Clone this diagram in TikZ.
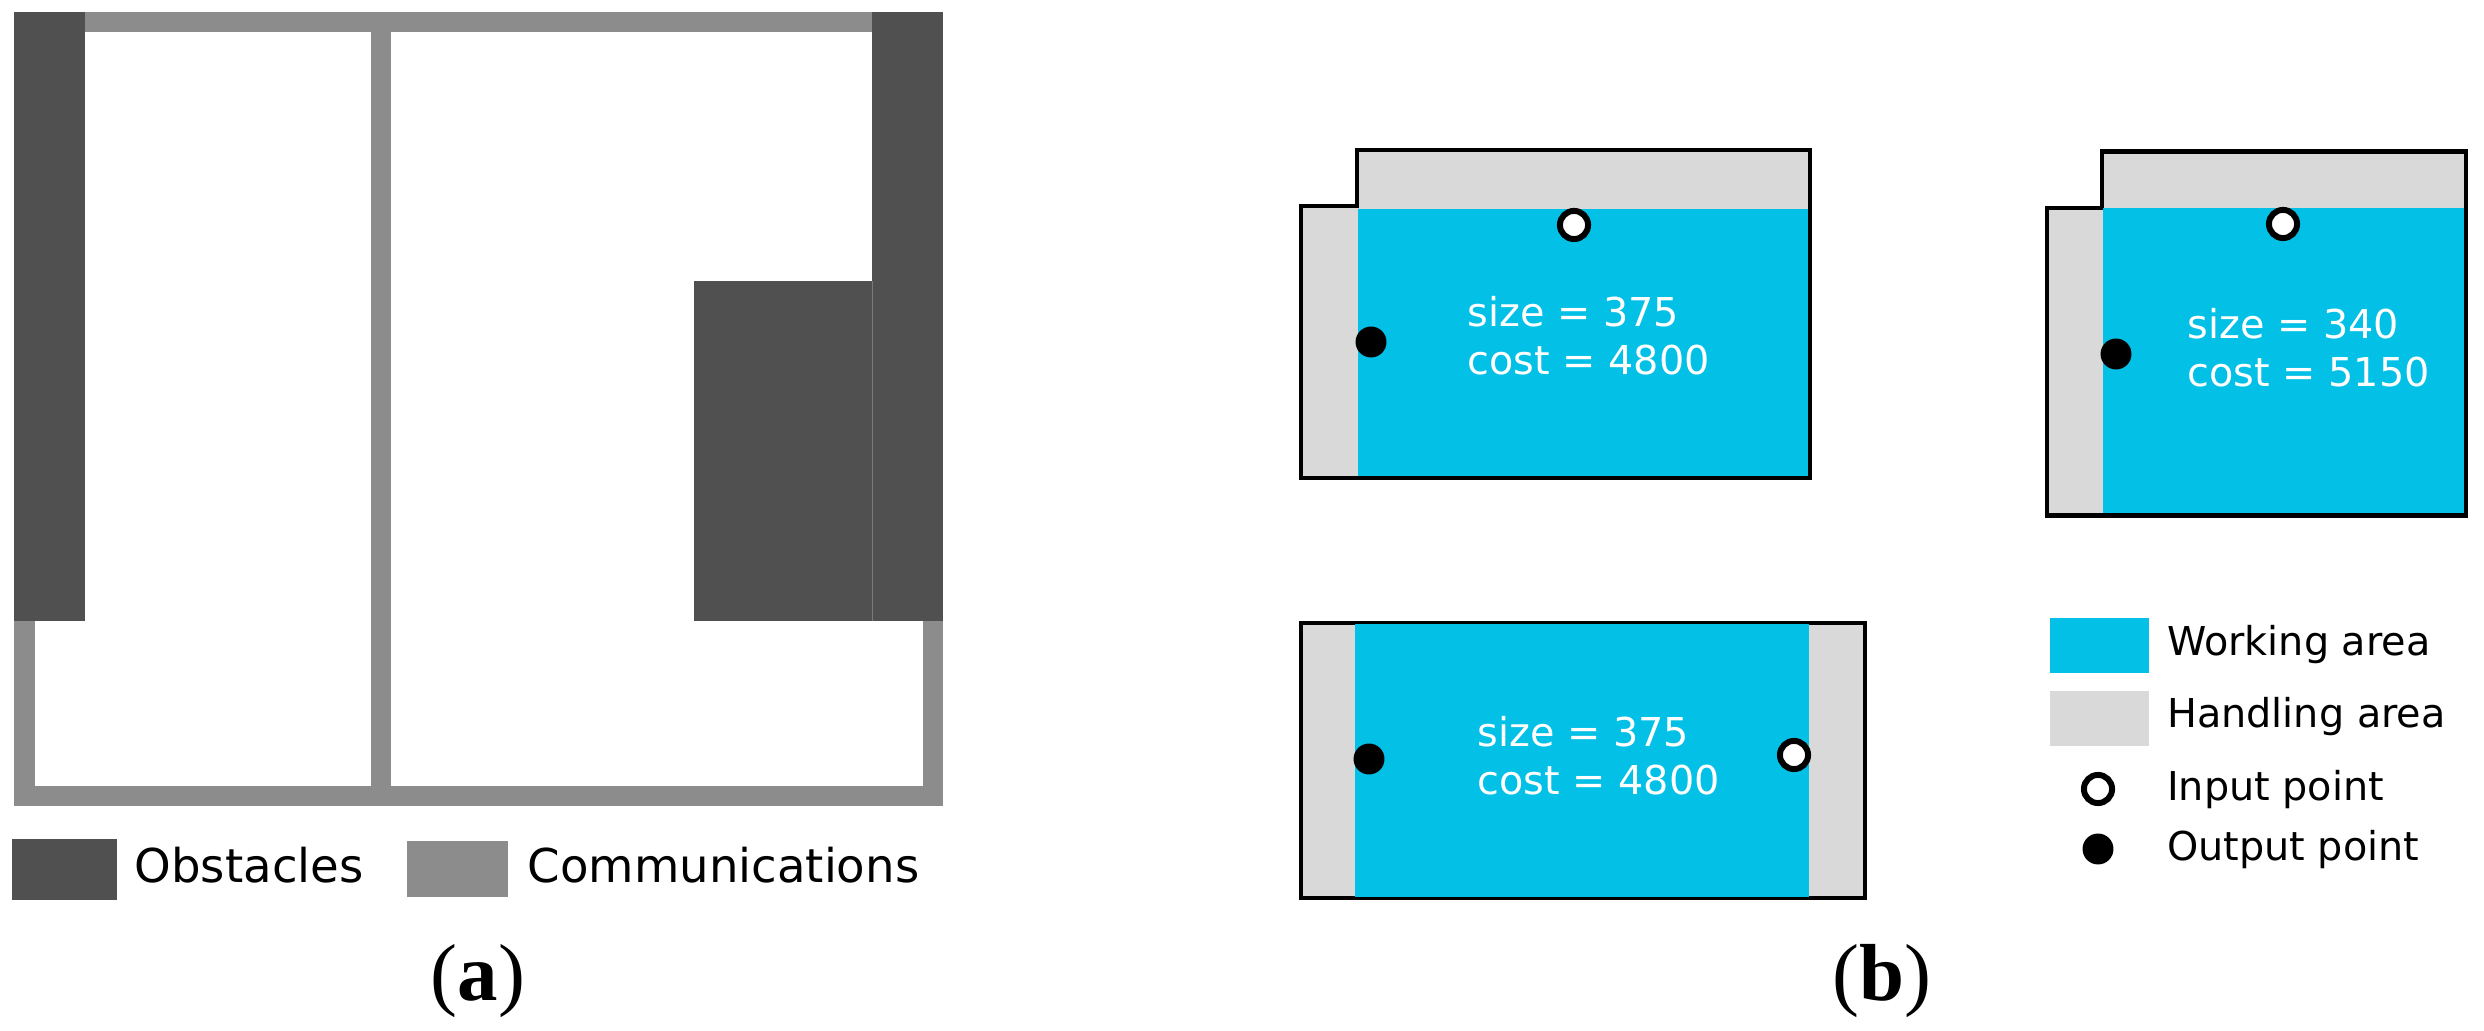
\documentclass[tikz,border=0pt]{standalone}
\usepackage{xcolor}
\usepackage{fontspec}
\setsansfont{DejaVu Sans}
\newfontfamily\capfont{Liberation Serif}
\definecolor{obstacle}{HTML}{505050}
\definecolor{commline}{HTML}{8C8C8C}
\definecolor{working}{HTML}{02C0E6}
\definecolor{handling}{HTML}{D9D9D9}
\tikzset{
    outline/.style={draw=black, line width=1.4pt, fill=handling},
    label/.style={anchor=base west, inner sep=0pt, font=\sffamily\fontsize{11.3}{13}\selectfont},
    biglabel/.style={anchor=base west, inner sep=0pt, font=\sffamily\fontsize{13.25}{15}\selectfont},
    caption/.style={inner sep=0pt, font=\capfont\fontsize{23}{28}\selectfont},
    inpoint/.style={circle, draw=black, fill=white, line width=1.7pt, minimum size=8pt, inner sep=0pt},
    outpoint/.style={circle, fill=black, minimum size=8.8pt, inner sep=0pt}
}

\begin{document}
\begin{tikzpicture}[x=0.01cm, y=-0.01cm]
    \useasboundingbox (0,0) rectangle (2484,1031);

    % Communications
    \fill[commline] (14,12) rectangle (943,32);
    \fill[commline] (371,12) rectangle (391,806);
    \fill[commline] (14,786) rectangle (943,806);
    \fill[commline] (14,621) rectangle (34.5,806);
    \fill[commline] (923,621) rectangle (943,806);

    % Obstacles
    \fill[obstacle] (14,12) rectangle (85,621);
    \fill[obstacle] (872.4,12) rectangle (943,621);
    \fill[obstacle] (694,281) rectangle (872.4,621);
    \draw[commline!70!obstacle, line width=0.2pt] (872.4,281) -- (872.4,621);

    % Legend of (a)
    \fill[obstacle] (12,839.5) rectangle (117,900);
    \fill[commline] (407,841) rectangle (508,897);
    \node[biglabel] (obstacles) at (134,883) {Obstacles};
    \node[biglabel] (communications) at (527,883) {Communications};
    \node[caption] (capa) at (478,981) {(\textbf{a})};

    % First layout
    \draw[outline] (1301,206) -- (1357,206) -- (1357,150) -- (1810,150) -- (1810,478) -- (1301,478) -- cycle;
    \fill[working] (1358,209) rectangle (1808,476);
    \node[inpoint] (inA) at (1574,225) {};
    \node[outpoint] (outA) at (1371,342) {};
    \node[label, white] (sizeA) at (1467,327) {size = 375};
    \node[label, white] (costA) at (1467,375) {cost = 4800};

    % Second layout
    \draw[outline] (2047,208) -- (2102,208) -- (2102,151.5) -- (2466,151.5) -- (2466,515.5) -- (2047,515.5) -- cycle;
    \fill[working] (2103,208) rectangle (2464,513);
    \node[inpoint] (inB) at (2283,224) {};
    \node[outpoint] (outB) at (2116,354) {};
    \node[label, white] (sizeB) at (2187,339) {size = 340};
    \node[label, white] (costB) at (2187,387) {cost = 5150};

    % Third layout
    \draw[outline] (1301,623) rectangle (1865,898);
    \fill[working] (1355,624) rectangle (1809,897);
    \node[inpoint] (inC) at (1794,755) {};
    \node[outpoint] (outC) at (1369,759) {};
    \node[label, white] (sizeC) at (1477,747) {size = 375};
    \node[label, white] (costC) at (1477,795) {cost = 4800};

    % Legend of (b)
    \fill[working] (2050,618) rectangle (2149,673);
    \fill[handling] (2050,691) rectangle (2149,746);
    \node[inpoint] (inkey) at (2098,789) {};
    \node[outpoint] (outkey) at (2098,849) {};
    \node[label] (worklabel) at (2166.5,656) {Working area};
    \node[label] (handlabel) at (2166.5,728) {Handling area};
    \node[label] (inlabel) at (2166.5,801) {Input point};
    \node[label] (outlabel) at (2166.5,860) {Output point};
    \node[caption] (capb) at (1882,981) {(\textbf{b})};
\end{tikzpicture}
\end{document}
